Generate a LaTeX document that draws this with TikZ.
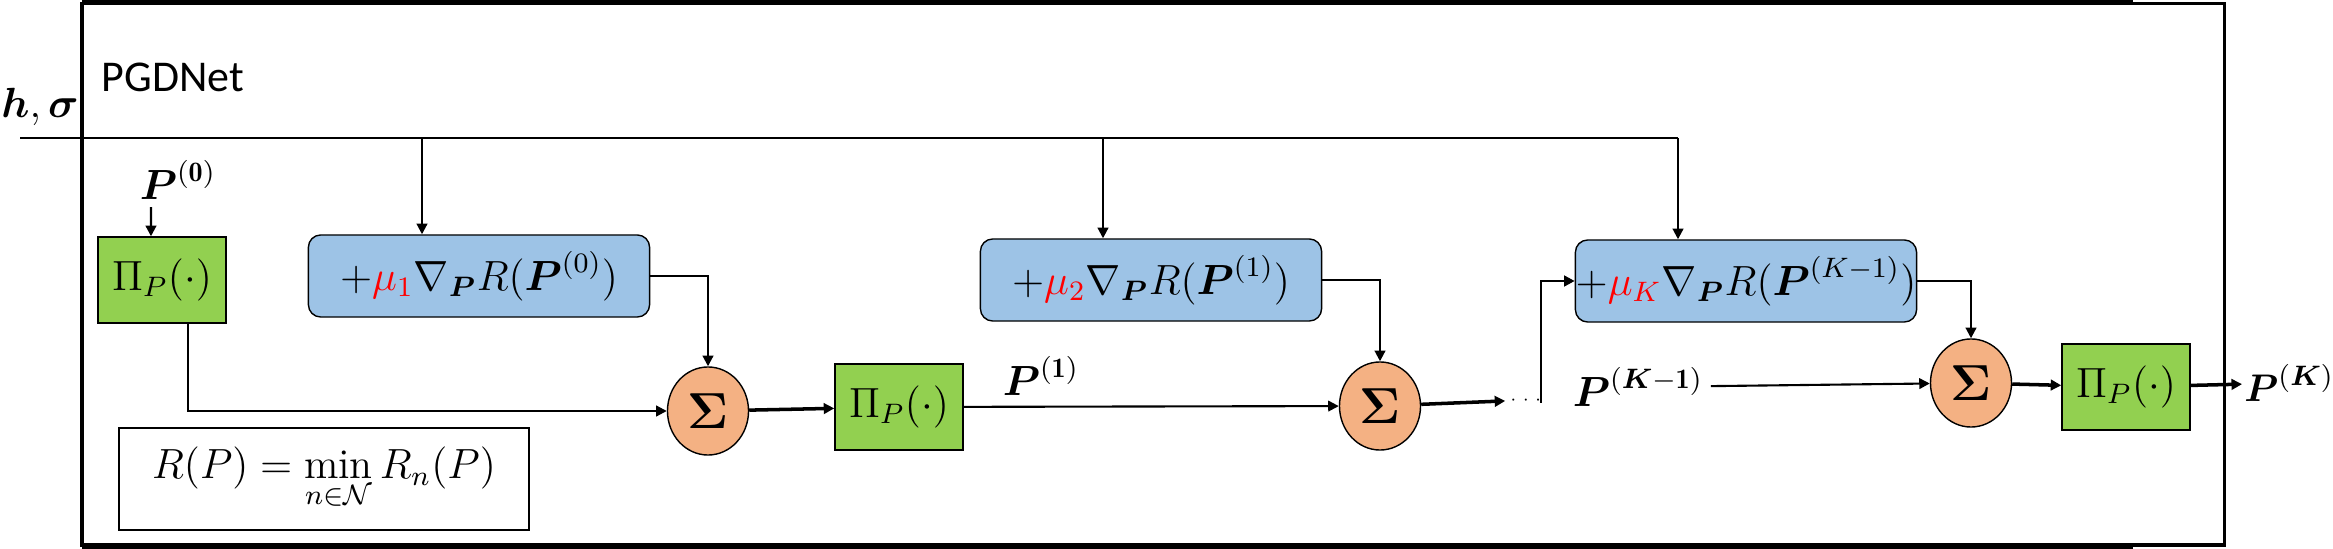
\documentclass[tikz,border=0pt]{standalone}
\usepackage{amsmath}
\usepackage{amssymb}
\usepackage{fontspec}
\newfontfamily\netfont{Carlito}
\usepackage{tikz}
\usetikzlibrary{arrows.meta,positioning,shapes.geometric}

\definecolor{projgreen}{RGB}{146,208,80}
\definecolor{gradblue}{RGB}{157,195,230}
\definecolor{sumorange}{RGB}{244,177,131}
\definecolor{stepred}{RGB}{255,0,0}

\begin{document}
\begin{tikzpicture}[x=0.01cm, y=-0.01cm,
    proj/.style={draw, fill=projgreen, minimum width=1.28cm, minimum height=0.86cm,
                 inner sep=0pt, font=\large},
    grad/.style={draw, rounded corners=3.5pt, fill=gradblue, minimum width=3.41cm,
                 minimum height=0.82cm, inner sep=0pt, font=\large},
    sumnode/.style={draw, ellipse, fill=sumorange, minimum width=0.81cm,
                    minimum height=0.88cm, inner sep=0pt, font=\Large},
    lbl/.style={inner sep=2pt, font=\large},
    every edge/.style={draw, -{Triangle[length=3pt,width=3pt]}, line width=0.6pt}
  ]
  \useasboundingbox (0,0) rectangle (2333,549);

  % frame of the network
  \draw[line width=1pt] (82,3.5) rectangle (2224.5,545);
  \fill (82,0) rectangle (2133,4);
  \fill (82,545) rectangle (2133,549);
  \node[anchor=west, inner sep=0pt, font=\netfont\fontsize{12.5}{15}\selectfont] (NET) at (101,77) {PGDNet};

  % inputs
  \node[lbl] (HS) at (40,107) {$\boldsymbol{h},\boldsymbol{\sigma}$};
  \node[lbl] (P0) at (178,180) {$\boldsymbol{P}^{(\mathbf{0})}$};
  \coordinate (BUS) at (20,138);
  \coordinate (T1) at (422,138);
  \coordinate (T2) at (1103,138);
  \coordinate (T3) at (1678,138);

  % blocks
  \node[proj] (PI0) at (162,280) {$\Pi_P(\cdot)$};
  \node[grad] (GRAD1) at (479,276) {$+{\color{stepred}\mu_1}\nabla_{\boldsymbol{P}}R(\boldsymbol{P}^{(0)})$};
  \node[sumnode] (SUM1) at (708,411) {$\boldsymbol{\Sigma}$};
  \node[proj] (PI1) at (899,407) {$\Pi_P(\cdot)$};
  \node[lbl] (P1) at (1041,376) {$\boldsymbol{P}^{(\mathbf{1})}$};
  \node[grad] (GRAD2) at (1151,280) {$+{\color{stepred}\mu_2}\nabla_{\boldsymbol{P}}R(\boldsymbol{P}^{(1)})$};
  \node[sumnode] (SUM2) at (1380,406) {$\boldsymbol{\Sigma}$};
  \node[inner sep=1pt, font=\tiny] (DOTS) at (1528,400) {$\cdots$};
  \coordinate (UP) at (1541,403);
  \node[grad] (GRAD3) at (1746,281) {$+{\color{stepred}\mu_K}\nabla_{\boldsymbol{P}}R(\boldsymbol{P}^{(K-1)})$};
  \node[lbl] (PK1) at (1638,387) {$\boldsymbol{P}^{(\boldsymbol{K}-\mathbf{1})}$};
  \node[sumnode] (SUM3) at (1971,383) {$\boldsymbol{\Sigma}$};
  \node[proj] (PIK) at (2126,387) {$\Pi_P(\cdot)$};
  \node[anchor=west, inner sep=0.5pt, font=\fontsize{11}{13}\selectfont] (PK) at (2242,383) {$\boldsymbol{P}^{(\boldsymbol{K})}$};

  \node[draw, line width=0.6pt, minimum width=4.09cm, minimum height=1.02cm, font=\large] (RDEF) at (324,479)
    {$\displaystyle R(P)=\min_{n\in\mathcal{N}}R_n(P)$};

  % bus of h, sigma
  \draw[line width=0.7pt] (BUS) -- (T3);
  \draw (T1) edge (T1 |- GRAD1.north);
  \draw (T2) edge (T2 |- GRAD2.north);
  \draw (T3) edge (T3 |- GRAD3.north);

  % data path
  \draw ([xshift=-0.27cm]P0.south) edge ([xshift=-0.11cm]PI0.north);
  \draw[line width=0.6pt, -{Triangle[length=3pt,width=3pt]}] ([xshift=0.26cm]PI0.south) |- (SUM1.west);
  \draw[line width=0.6pt, -{Triangle[length=3pt,width=3pt]}] (GRAD1.east) -| (SUM1.north);
  \draw (SUM1) edge[line width=1pt] (PI1);
  \draw (PI1) edge (SUM2);
  \draw[line width=0.6pt, -{Triangle[length=3pt,width=3pt]}] (GRAD2.east) -| (SUM2.north);
  \draw (SUM2) edge[line width=1pt] (DOTS);
  \draw[line width=0.8pt, -{Triangle[length=3pt,width=3pt]}] (UP) |- (GRAD3.west);
  \draw (PK1) edge (SUM3);
  \draw[line width=0.6pt, -{Triangle[length=3pt,width=3pt]}] (GRAD3.east) -| (SUM3.north);
  \draw (SUM3) edge[line width=1pt] (PIK);
  \draw (PIK) edge[line width=1pt] (PK);
\end{tikzpicture}
\end{document}
